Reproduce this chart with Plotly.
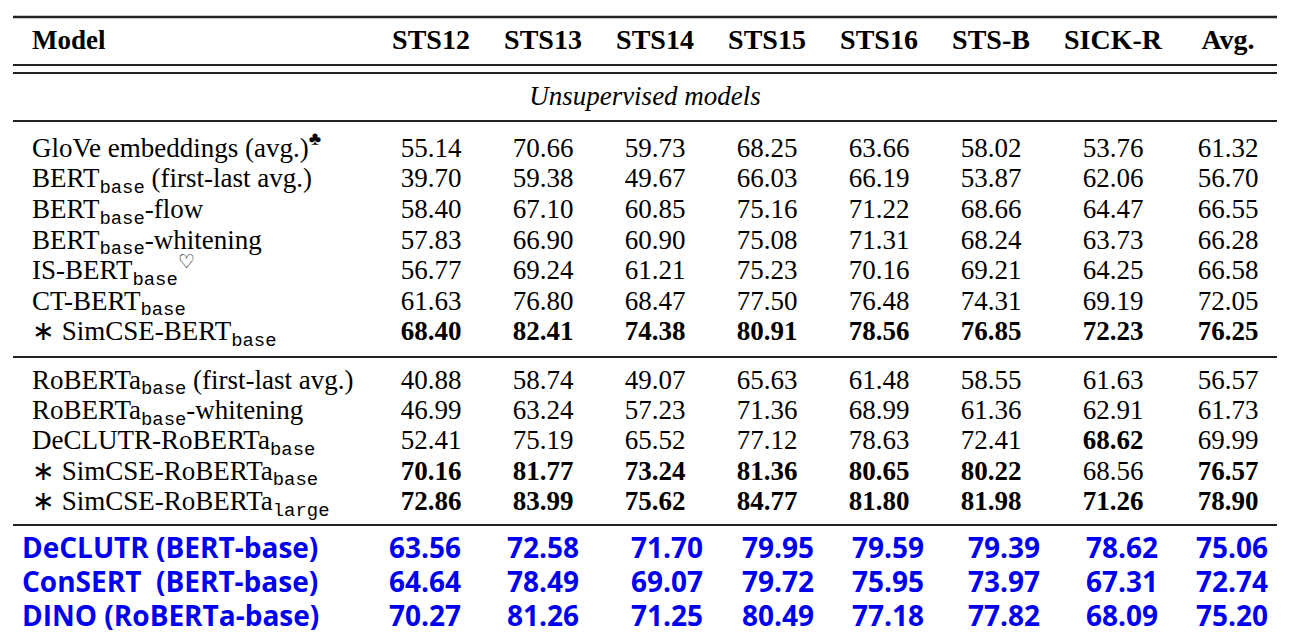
import plotly.graph_objects as go

# 列名
datasets = ["STS12", "STS13", "STS14", "STS15", "STS16", "STS-B", "SICK-R", "Avg."]

SUB = "<sub><span style='font-family:Liberation Mono'>{}</span></sub>"

# BERT 系（教師なし）
bert_models = [
    "GloVe embeddings (avg.)<sup>♣</sup>",
    "BERT" + SUB.format("base") + " (first-last avg.)",
    "BERT" + SUB.format("base") + "-flow",
    "BERT" + SUB.format("base") + "-whitening",
    "IS-BERT" + SUB.format("base") + "<sup>♡</sup>",
    "CT-BERT" + SUB.format("base"),
    "∗ SimCSE-BERT" + SUB.format("base"),
]
bert_scores = [
    [55.14, 70.66, 59.73, 68.25, 63.66, 58.02, 53.76, 61.32],
    [39.70, 59.38, 49.67, 66.03, 66.19, 53.87, 62.06, 56.70],
    [58.40, 67.10, 60.85, 75.16, 71.22, 68.66, 64.47, 66.55],
    [57.83, 66.90, 60.90, 75.08, 71.31, 68.24, 63.73, 66.28],
    [56.77, 69.24, 61.21, 75.23, 70.16, 69.21, 64.25, 66.58],
    [61.63, 76.80, 68.47, 77.50, 76.48, 74.31, 69.19, 72.05],
    [68.40, 82.41, 74.38, 80.91, 78.56, 76.85, 72.23, 76.25],
]
bert_bold = [
    [0] * 8, [0] * 8, [0] * 8, [0] * 8, [0] * 8, [0] * 8,
    [1] * 8,
]

# RoBERTa 系
roberta_models = [
    "RoBERTa" + SUB.format("base") + " (first-last avg.)",
    "RoBERTa" + SUB.format("base") + "-whitening",
    "DeCLUTR-RoBERTa" + SUB.format("base"),
    "∗ SimCSE-RoBERTa" + SUB.format("base"),
    "∗ SimCSE-RoBERTa" + SUB.format("large"),
]
roberta_scores = [
    [40.88, 58.74, 49.07, 65.63, 61.48, 58.55, 61.63, 56.57],
    [46.99, 63.24, 57.23, 71.36, 68.99, 61.36, 62.91, 61.73],
    [52.41, 75.19, 65.52, 77.12, 78.63, 72.41, 68.62, 69.99],
    [70.16, 81.77, 73.24, 81.36, 80.65, 80.22, 68.56, 76.57],
    [72.86, 83.99, 75.62, 84.77, 81.80, 81.98, 71.26, 78.90],
]
roberta_bold = [
    [0] * 8,
    [0] * 8,
    [0, 0, 0, 0, 0, 0, 1, 0],
    [1, 1, 1, 1, 1, 1, 0, 1],
    [1] * 8,
]

# 追加した結果（青字）
extra_models = ["DeCLUTR (BERT-base)", "ConSERT  (BERT-base)", "DINO (RoBERTa-base)"]
extra_scores = [
    [63.56, 72.58, 71.70, 79.95, 79.59, 79.39, 78.62, 75.06],
    [64.64, 78.49, 69.07, 79.72, 75.95, 73.97, 67.31, 72.74],
    [70.27, 81.26, 71.25, 80.49, 77.18, 77.82, 68.09, 75.20],
]

# レイアウト（ページ上のピクセル座標、body の余白 8px を考慮）
W, H, PAD = 1290, 637, 8
col_x = [431, 543, 655, 767, 879, 991, 1113, 1228]
extra_col_x = [425, 543, 667, 778, 888, 1004, 1122, 1232]
name_x = 32
extra_name_x = 22
header_y = 42
group_y = 98
bert_y = [150 + 30.6 * i for i in range(len(bert_models))]
roberta_y = [382 + 30.3 * i for i in range(len(roberta_models))]
extra_y = [551 + 34 * i for i in range(len(extra_models))]

SERIF = "Liberation Serif"
FS = 27

fig = go.Figure()


def add_text(xs, ys, texts, font, pos="middle center"):
    fig.add_trace(go.Scatter(
        x=xs, y=ys, text=texts, mode="text",
        textposition=pos, textfont=font,
        hoverinfo="skip", showlegend=False, cliponaxis=False,
    ))


# ヘッダー
add_text([name_x], [header_y], ["<b>Model</b>"],
         dict(family=SERIF, size=FS, color="black"), "middle right")
add_text(col_x, [header_y] * len(datasets), [f"<b>{d}</b>" for d in datasets],
         dict(family=SERIF, size=28, color="black"))
add_text([645], [group_y], ["<i>Unsupervised models</i>"],
         dict(family=SERIF, size=27, color="black"))

# 表本体
for names, scores, bold, ys in [(bert_models, bert_scores, bert_bold, bert_y),
                                (roberta_models, roberta_scores, roberta_bold, roberta_y)]:
    add_text([name_x] * len(names), ys, names,
             dict(family=SERIF, size=FS, color="black"), "middle right")
    for j in range(len(datasets)):
        txt = []
        for i in range(len(names)):
            s = f"{scores[i][j]:.2f}"
            txt.append(f"<b>{s}</b>" if bold[i][j] else s)
        add_text([col_x[j]] * len(names), ys, txt,
                 dict(family=SERIF, size=FS, color="black"))

BLUE = "#0000f0"
add_text([extra_name_x] * len(extra_models), extra_y, [f"<b>{m}</b>" for m in extra_models],
         dict(family="Open Sans", size=28, color=BLUE), "middle right")
for j in range(len(datasets)):
    add_text([extra_col_x[j]] * len(extra_models), extra_y,
             [f"<b>{extra_scores[i][j]:.2f}</b>" for i in range(len(extra_models))],
             dict(family="Open Sans", size=28, color=BLUE))

# 罫線
rules = [(17, 2.5), (65, 2), (73, 2), (121, 1.8), (357, 1.8), (525, 2.2)]
for y, w in rules:
    fig.add_shape(type="line", xref="x", yref="y", x0=13, x1=1277, y0=y, y1=y,
                  line=dict(color="#222", width=w))

fig.update_xaxes(range=[PAD, W], visible=False, fixedrange=True)
fig.update_yaxes(range=[H, PAD], visible=False, fixedrange=True)
fig.update_layout(
    width=W - PAD, height=H - PAD,
    margin=dict(l=0, r=0, t=0, b=0),
    plot_bgcolor="white", paper_bgcolor="white",
)

fig.write_html("out.html")
